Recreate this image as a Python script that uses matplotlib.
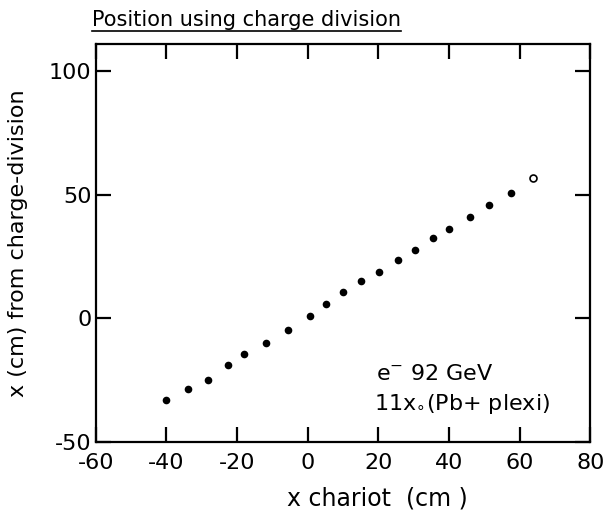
import matplotlib
matplotlib.use("Agg")
import matplotlib.pyplot as plt
from matplotlib.lines import Line2D
import numpy as np

plt.rcParams['font.family'] = ['DejaVu Sans']

# x chariot (cm) vs position from charge division (cm)
x_chariot = [-40.0, -33.8, -28.3, -22.6, -18.1, -11.9, -5.7, 0.6, 5.3, 10.1,
             15.0, 20.3, 25.6, 30.3, 35.5, 40.1, 46.0, 51.3, 57.6]
x_charge = [-32.9, -28.6, -25.1, -19.0, -14.5, -10.0, -4.5, 0.9, 6.0, 10.9,
            15.1, 19.0, 23.6, 27.8, 32.4, 36.2, 41.0, 45.9, 50.7]
# last point drawn as an open circle
x_open = [63.9]
y_open = [56.8]

xticks = [-60, -40, -20, 0, 20, 40, 60, 80]
yticks = [-50, 0, 50, 100]

fig = plt.figure(figsize=(6.06, 5.2), dpi=100, facecolor='white')
ax = fig.add_axes([0.158, 0.150, 0.816, 0.765])

ax.plot(x_chariot, x_charge, 'o', color='black', markersize=5.5, markeredgewidth=0)
ax.plot(x_open, y_open, 'o', markerfacecolor='white', markeredgecolor='black',
        markersize=5, markeredgewidth=1.2)

ax.set_xlim(-60, 80)
ax.set_ylim(-50, 111)
ax.set_xticks(xticks)
ax.set_yticks(yticks)
ax.set_xticklabels([str(v) for v in xticks])
ax.set_yticklabels([str(v) for v in yticks])

for s in ax.spines.values():
    s.set_linewidth(1.6)
ax.tick_params(direction='in', length=11, width=1.6, labelsize=16,
               top=True, right=True, pad=8)
ax.tick_params(axis='y', pad=3)

fig.text(0.623, 0.042, 'x chariot  (cm )', fontsize=17, ha='center', va='center')
fig.text(0.03, 0.533, 'x (cm) from charge-division', fontsize=16, rotation=90,
         ha='center', va='center')

ax.text(0.567, 0.156, 'e$^{-}$ 92 GeV', transform=ax.transAxes, fontsize=16,
        va='baseline')
ax.text(0.563, 0.080, '11x$_{\\circ}$(Pb+ plexi)', transform=ax.transAxes,
        fontsize=16, va='baseline')

title = fig.text(0.152, 0.95, 'Position using charge division', fontsize=15,
                 ha='left', va='baseline')
fig.canvas.draw()
bb = title.get_window_extent().transformed(fig.transFigure.inverted())
fig.add_artist(Line2D([bb.x0, bb.x1], [bb.y0 - 0.002, bb.y0 - 0.002],
                      transform=fig.transFigure, color='black', linewidth=1.2))

fig.savefig('out.png', dpi=100)
